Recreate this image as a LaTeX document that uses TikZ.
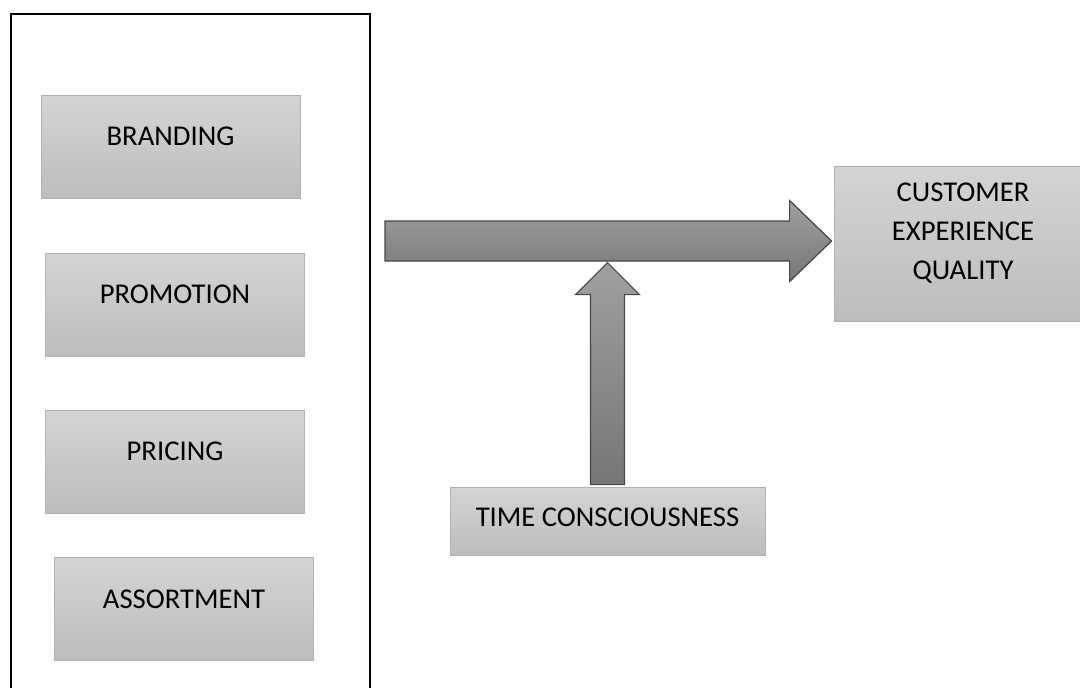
\documentclass[tikz,border=0pt]{standalone}
\usepackage{fontspec}
\setmainfont{Carlito}
\usetikzlibrary{positioning, calc}
\definecolor{boxtop}{RGB}{212,212,212}
\definecolor{boxbot}{RGB}{189,189,189}
\definecolor{boxline}{RGB}{178,178,178}
\definecolor{arrowtop}{RGB}{160,160,160}
\definecolor{arrowbot}{RGB}{118,118,118}
\definecolor{arrowline}{RGB}{70,70,70}

\begin{document}
\begin{tikzpicture}[
        x=0.75pt, y=-0.75pt,
        frame/.style={rectangle, draw=black, line width=1.5pt, minimum width=269.25pt, minimum height=525pt},
        box/.style={rectangle, draw=boxline, top color=boxtop, bottom color=boxbot, line width=0.6pt, minimum width=194.25pt, minimum height=77.25pt, text depth=15pt, align=center, font=\fontsize{21.5}{29.25}\selectfont},
        fatarrow/.style={draw=arrowline, line width=0.9pt, top color=arrowtop, bottom color=arrowbot, line join=miter}
    ]
        \clip (0,0) rectangle (1080,687);

        \node[frame, anchor=north west] (FRAME) at (10,13) {};

        \node[box] (BRANDING) at (170.5,146.5) {BRANDING};
        \node[box] (PROMOTION) at (175,304.5) {PROMOTION};
        \node[box] (PRICING) at (175,461.5) {PRICING};
        \node[box] (ASSORTMENT) at (184,609) {ASSORTMENT};

        \node[box, minimum width=193.5pt, minimum height=116.25pt, text depth=18pt] (CEQ) at (963,243.5) {CUSTOMER\\EXPERIENCE\\QUALITY};
        \node[box, minimum width=236.25pt, minimum height=51pt, text depth=6pt] (TIME) at (607.5,521) {TIME CONSCIOUSNESS};

        % main arrow into the outcome
        \coordinate (TAIL) at ($(FRAME.north east)+(14,228)$);
        \coordinate (TIP) at ($(CEQ.west)+(-2,-2.5)$);
        \draw[fatarrow] ($(TAIL)+(0,-20)$) -- ($(TIP)+(-42,-20)$) -- ($(TIP)+(-42,-40.5)$) -- (TIP)
            -- ($(TIP)+(-42,40.5)$) -- ($(TIP)+(-42,20)$) -- ($(TAIL)+(0,20)$) -- cycle;

        % moderator arrow
        \coordinate (UTIP) at ($(TIME.north)+(0,-224)$);
        \draw[fatarrow] ($(TIME.north)+(-17,-2)$) -- ($(UTIP)+(-17,32)$) -- ($(UTIP)+(-32,32)$) -- (UTIP)
            -- ($(UTIP)+(32,32)$) -- ($(UTIP)+(17,32)$) -- ($(TIME.north)+(17,-2)$) -- cycle;
    \end{tikzpicture}
\end{document}
